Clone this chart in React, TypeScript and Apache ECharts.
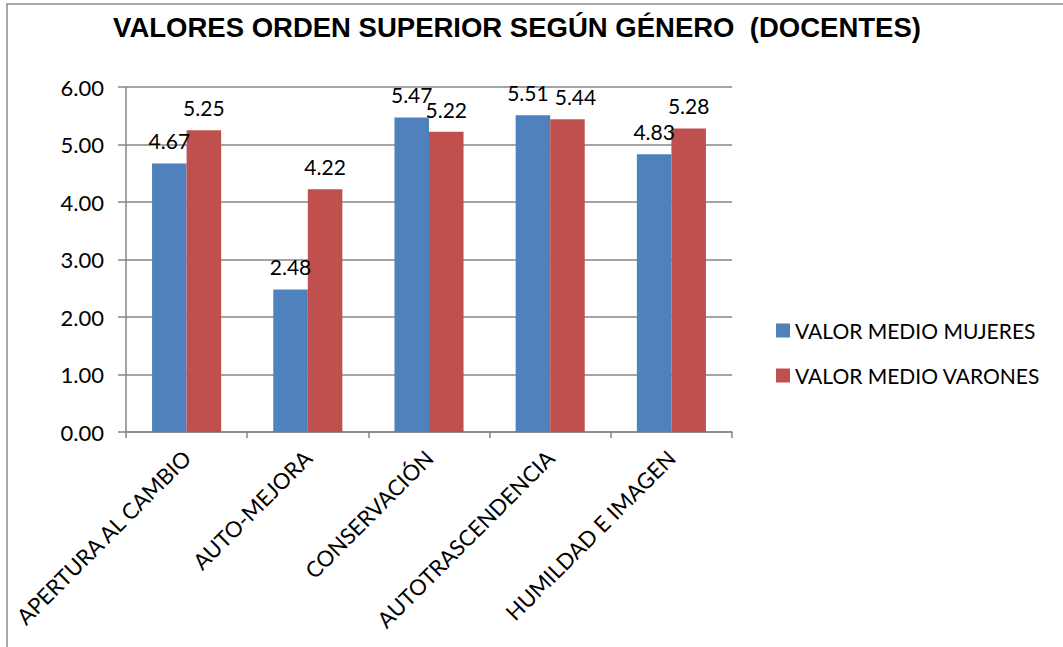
import React, { useEffect, useRef } from "react";
import * as echarts from "echarts";

const categories = [
  "APERTURA AL CAMBIO",
  "AUTO-MEJORA",
  "CONSERVACIÓN",
  "AUTOTRASCENDENCIA",
  "HUMILDAD E IMAGEN",
];
const mujeres = [4.67, 2.48, 5.47, 5.51, 4.83];
const varones = [5.25, 4.22, 5.22, 5.44, 5.28];
const seriesNames = ["VALOR MEDIO MUJERES", "VALOR MEDIO VARONES"];
const titleText = "VALORES ORDEN SUPERIOR SEGÚN GÉNERO  (DOCENTES)";

const FONT = "Lato, 'Noto Sans', sans-serif";

// label nudges (style only) to keep close labels apart, as in the reference
const mujeresLabelShift: Record<number, number> = { 3: -5 };
const varonesLabelShift: Record<number, number> = { 3: 8 };

export default function App() {
  const ref = useRef<HTMLDivElement>(null);
  useEffect(() => {
    if (!ref.current) return;
    const chart = echarts.init(ref.current, undefined, { renderer: "svg" });
    const label = {
      show: true,
      position: "top" as const,
      distance: 12,
      fontFamily: FONT,
      fontSize: 21,
      color: "#000",
      formatter: (p: any) => Number(p.value).toFixed(2),
    };
    const withShift = (vals: number[], shifts: Record<number, number>) =>
      vals.map((v, i) =>
        shifts[i] !== undefined ? { value: v, label: { offset: [shifts[i], 0] } } : v
      );
    chart.setOption({
      animation: false,
      backgroundColor: "#fff",
      title: {
        text: titleText,
        left: 512,
        textAlign: "center",
        top: 8,
        textStyle: {
          fontFamily: "'Liberation Sans', Arial, sans-serif",
          fontWeight: "bold",
          fontSize: 27.5,
          color: "#000",
        },
      },
      graphic: [
        {
          type: "polyline",
          shape: { points: [[7, 700], [7, 4], [1100, 4]] },
          style: { stroke: "#8c8c8c", lineWidth: 1.5, fill: "none" },
          silent: true,
        },
      ],
      legend: {
        orient: "vertical",
        left: 771,
        top: 315,
        itemWidth: 14,
        itemHeight: 14,
        itemGap: 24,
        icon: "rect",
        textStyle: { fontFamily: FONT, fontSize: 21, color: "#000" },
        data: seriesNames,
      },
      grid: { left: 126, top: 87, right: 331, bottom: 215 },
      xAxis: {
        type: "category",
        data: categories,
        axisLine: { lineStyle: { color: "#868686", width: 1.5 } },
        axisTick: { show: true, length: 6, lineStyle: { color: "#868686", width: 1.5 } },
        axisLabel: {
          rotate: 45,
          interval: 0,
          margin: 22,
          fontFamily: FONT,
          fontSize: 22,
          color: "#000",
        },
      },
      yAxis: {
        type: "value",
        min: 0,
        max: 6,
        interval: 1,
        axisLine: { show: true, lineStyle: { color: "#868686", width: 1.5 } },
        axisTick: { show: true, length: 8, lineStyle: { color: "#868686", width: 1.5 } },
        splitLine: { lineStyle: { color: "#868686", width: 1.5 } },
        axisLabel: {
          margin: 22,
          fontFamily: FONT,
          fontSize: 22,
          color: "#000",
          formatter: (v: number) => v.toFixed(2),
        },
      },
      series: [
        {
          name: seriesNames[0],
          type: "bar",
          data: withShift(mujeres, mujeresLabelShift),
          itemStyle: { color: "#4F81BD" },
          barGap: "0%",
          barCategoryGap: "43%",
          label,
        },
        {
          name: seriesNames[1],
          type: "bar",
          data: withShift(varones, varonesLabelShift),
          itemStyle: { color: "#C0504D" },
          barGap: "0%",
          barCategoryGap: "43%",
          label,
        },
      ],
    });
    return () => chart.dispose();
  }, []);
  return (
    <div
      ref={ref}
      style={{ position: "fixed", left: 0, top: 0, width: 1063, height: 647 }}
    />
  );
}
